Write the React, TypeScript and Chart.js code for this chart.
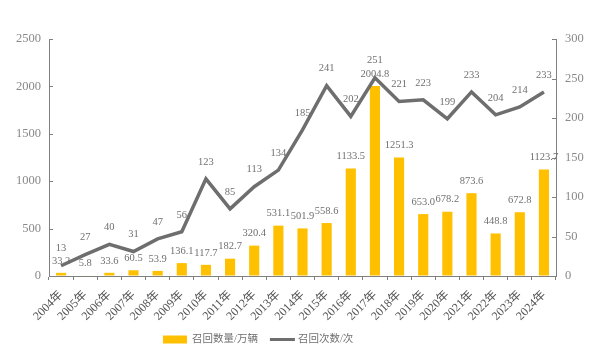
import React, { useEffect, useRef } from "react";
import { Chart, registerables } from "chart.js";

Chart.register(...registerables);

const categories = ["2004年","2005年","2006年","2007年","2008年","2009年","2010年","2011年","2012年","2013年","2014年","2015年","2016年","2017年","2018年","2019年","2020年","2021年","2022年","2023年","2024年"];
const recallVolume = [33.2,5.8,33.6,60.5,53.9,136.1,117.7,182.7,320.4,531.1,501.9,558.6,1133.5,2004.8,1251.3,653.0,678.2,873.6,448.8,672.8,1123.7];
const recallCount = [13,27,40,31,47,56,123,85,113,134,185,241,202,251,221,223,199,233,204,214,233];
const volumeLabels = ["33.2","5.8","33.6","60.5","53.9","136.1","117.7","182.7","320.4","531.1","501.9","558.6","1133.5","2004.8","1251.3","653.0","678.2","873.6","448.8","672.8","1123.7"];
const seriesNames = ["召回数量/万辆", "召回次数/次"];

const BAR_COLOR = "#FFC000";
const LINE_COLOR = "#6e6e6e";
const AXIS_COLOR = "#808080";
const SERIF = "'Liberation Serif', 'Noto Sans CJK SC', serif";

const decorPlugin = {
  id: "decor",
  afterDraw(chart: any) {
    const ctx = chart.ctx;
    ctx.save();
    ctx.strokeStyle = AXIS_COLOR;
    ctx.lineWidth = 1;
    const yl = chart.scales.y;
    const yr = chart.scales.y1;
    yl.ticks.forEach((t: any, i: number) => {
      const py = Math.round(yl.getPixelForTick(i)) + 0.5;
      ctx.beginPath();
      ctx.moveTo(yl.right, py);
      ctx.lineTo(yl.right + 4, py);
      ctx.stroke();
    });
    yr.ticks.forEach((t: any, i: number) => {
      const py = Math.round(yr.getPixelForTick(i)) + 0.5;
      ctx.beginPath();
      ctx.moveTo(yr.left - 4, py);
      ctx.lineTo(yr.left, py);
      ctx.stroke();
    });
    ctx.font = "10.5px " + SERIF;
    ctx.fillStyle = "#707070";
    ctx.textAlign = "center";
    ctx.textBaseline = "middle";
    const barMeta = chart.getDatasetMeta(0);
    barMeta.data.forEach((el: any, i: number) => {
      ctx.fillText(volumeLabels[i], el.x, el.y - 12);
    });
    const lineMeta = chart.getDatasetMeta(1);
    lineMeta.data.forEach((el: any, i: number) => {
      ctx.fillText(String(recallCount[i]), el.x, el.y - 17);
    });
    const cy = 339.5;
    const lx = 163;
    ctx.fillStyle = BAR_COLOR;
    ctx.fillRect(lx, cy - 4, 24, 8);
    ctx.font = "10.5px " + SERIF;
    ctx.fillStyle = "#707070";
    ctx.textAlign = "left";
    ctx.fillText(seriesNames[0], lx + 29, cy);
    const w0 = ctx.measureText(seriesNames[0]).width;
    const l2 = lx + 29 + w0 + 12;
    ctx.strokeStyle = LINE_COLOR;
    ctx.lineWidth = 3;
    ctx.beginPath();
    ctx.moveTo(l2, cy);
    ctx.lineTo(l2 + 25, cy);
    ctx.stroke();
    ctx.fillText(seriesNames[1], l2 + 28, cy);
    ctx.restore();
  },
};

export default function App() {
  const ref = useRef<HTMLCanvasElement | null>(null);
  useEffect(() => {
    if (!ref.current) return;
    const chart = new Chart(ref.current, {
      type: "bar",
      data: {
        labels: categories,
        datasets: [
          {
            type: "bar",
            label: seriesNames[0],
            data: recallVolume,
            backgroundColor: BAR_COLOR,
            yAxisID: "y",
            barPercentage: 0.42,
            categoryPercentage: 1,
            order: 1,
          },
          {
            type: "line",
            label: seriesNames[1],
            data: recallCount,
            borderColor: LINE_COLOR,
            borderWidth: 3.5,
            pointRadius: 0,
            tension: 0,
            yAxisID: "y1",
            order: 0,
          } as any,
        ],
      },
      options: {
        responsive: false,
        animation: false,
        layout: { padding: { top: 39, left: 0, right: 0, bottom: 0 } },
        plugins: { legend: { display: false }, tooltip: { enabled: false } },
        scales: {
          x: {
            offset: true,
            grid: { display: true, drawOnChartArea: false, drawTicks: true, tickLength: 4, color: AXIS_COLOR, offset: true },
            border: { display: true, color: AXIS_COLOR, width: 1 },
            ticks: { maxRotation: 45, minRotation: 45, color: "#555", font: { family: SERIF, size: 12 }, padding: 8, autoSkip: false },
            afterFit(scale: any) { scale.height = 82; },
          },
          y: {
            position: "left",
            min: 0,
            max: 2500,
            ticks: { stepSize: 500, color: "#8a8a8a", font: { family: SERIF, size: 12.5 }, padding: 8, callback: (v: any) => String(v) },
            grid: { display: true, drawOnChartArea: false, drawTicks: false },
            border: { display: true, color: AXIS_COLOR, width: 1 },
            afterFit(scale: any) { scale.width = 49; },
          },
          y1: {
            position: "right",
            min: 0,
            max: 300,
            ticks: { stepSize: 50, color: "#8a8a8a", font: { family: SERIF, size: 12.5 }, padding: 9, callback: (v: any) => String(v) },
            grid: { display: true, drawOnChartArea: false, drawTicks: false },
            border: { display: true, color: AXIS_COLOR, width: 1 },
            afterFit(scale: any) { scale.width = 42; },
          },
        },
      },
      plugins: [decorPlugin],
    });
    return () => chart.destroy();
  }, []);
  return (
    <div style={{ position: "absolute", left: 0, top: 0, width: 598, height: 358, background: "#fff" }}>
      <canvas ref={ref} width={598} height={358} style={{ display: "block" }} />
    </div>
  );
}
